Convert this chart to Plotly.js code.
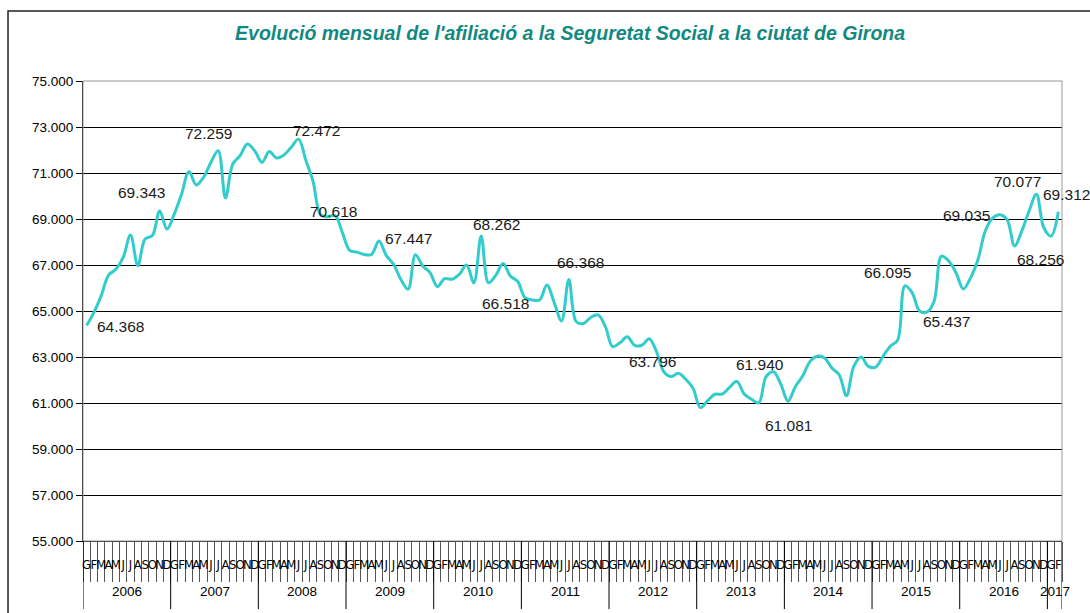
<!DOCTYPE html>
<html>
<head>
<meta charset="utf-8">
<script src="https://cdn.plot.ly/plotly-3.0.1.min.js"></script>
<style>
  html, body { margin: 0; padding: 0; background: #fff; }
  #chart { width: 1090px; height: 613px; }
</style>
</head>
<body>
<div id="chart"></div>
<script>
const years = ["2006", "2007", "2008", "2009", "2010", "2011", "2012", "2013", "2014", "2015", "2016", "2017"];
const monthLetters = ["G", "F", "M", "A", "M", "J", "J", "A", "S", "O", "N", "D"];

// afiliats per mes, gener 2006 - febrer 2017
const affiliates = [
  64368, 64940, 65670, 66560, 66810, 67330, 68300, 66970, 68130, 68280, 69343, 68560,
  69220, 70090, 71060, 70480, 70810, 71460, 71970, 69910, 71390, 71750, 72259, 71970,
  71460, 71930, 71650, 71780, 72120, 72472, 71560, 70618, 69200, 69100, 69150, 68410,
  67640, 67560, 67460, 67460, 68040, 67420, 67030, 66380, 65950, 67447, 66960, 66670,
  66060, 66410, 66380, 66590, 67000, 66230, 68262, 66230, 66550, 67070, 66518, 66280,
  65580, 65480, 65480, 66130, 65360, 64570, 66368, 64540, 64460, 64720, 64830, 64320,
  63450, 63620, 63880, 63510, 63510, 63796, 63230, 62360, 62150, 62290, 62030, 61640,
  60800, 61100, 61380, 61390, 61680, 61940, 61390, 61160, 61010, 62150, 62360, 61830,
  61081, 61710, 62170, 62800, 63030, 62960, 62520, 62230, 61310, 62590, 63000, 62590,
  62560, 63030, 63470, 63730, 66095, 65790, 65000, 64950, 65437, 67390, 67170, 66660,
  65960, 66450, 67240, 68480, 69035, 69180, 68960, 67830, 68480, 69350, 70077, 68630,
  68256, 69312
];

// months that carry a value label
const labelMonths = [0, 10, 22, 29, 31, 45, 54, 58, 66, 77, 89, 96, 112, 116, 124, 130, 132, 133];
// label offsets in px (dx, dy), same order as labelMonths
const labelOffsets = [
  [34, -1], [-18, 19], [-39, 11], [18, 9], [20, -30], [-7, 16], [15, 11], [-5, -27], [12, 17],
  [3, -23], [23, 17], [0, -24], [-17, 13], [12, -21], [-26, 3], [-19, 13], [-11, -23], [8, 17]
];

const FONT = "Liberation Sans, Arial, sans-serif";
const NARROW = "Liberation Sans Narrow, DejaVu Sans Condensed, Liberation Sans, sans-serif";

function fmtThousands(num) {
  return String(num).replace(/\B(?=(\d{3})+(?!\d))/g, ".");
}

function buildCategories() {
  return affiliates.map((_, i) => years[Math.floor(i / 12)] + "-" + (i % 12 + 1));
}

function buildYearDecor(categories) {
  const shapes = [];
  const annotations = [];
  const n = categories.length;

  years.forEach((year, k) => {
    const start = k * 12;
    if (start >= n) return;
    const end = Math.min(start + 12, n) - 1;
    shapes.push({
      type: "line", xref: "x", yref: "paper",
      x0: start - 0.5, x1: start - 0.5, y0: 0, y1: -0.148,
      line: { color: "#000", width: 1 }
    });
    annotations.push({
      xref: "x", yref: "paper",
      x: (start + end) / 2, y: -0.11,
      text: year, showarrow: false,
      xanchor: "center", yanchor: "middle",
      font: { family: FONT, size: 13.5, color: "#000" }
    });
  });

  shapes.push({
    type: "line", xref: "x", yref: "paper",
    x0: n - 0.5, x1: n - 0.5, y0: 0, y1: -0.148,
    line: { color: "#000", width: 1 }
  });

  return { shapes, annotations };
}

function buildValueLabels(categories) {
  return labelMonths.map((idx, k) => ({
    xref: "x", yref: "y",
    x: categories[idx], y: affiliates[idx],
    text: fmtThousands(affiliates[idx]),
    showarrow: false,
    xanchor: "center", yanchor: "middle",
    xshift: labelOffsets[k][0], yshift: labelOffsets[k][1],
    font: { family: FONT, size: 15.5, color: "#1a1a1a" }
  }));
}

function renderChart() {
  const categories = buildCategories();
  const yearDecor = buildYearDecor(categories);

  const shapes = [
    // chart frame
    {
      type: "rect", xref: "paper", yref: "paper",
      x0: -0.0766, x1: 1.1, y0: -0.3, y1: 1.152,
      line: { color: "#222", width: 1.5 }
    },
    // plot area border
    {
      type: "rect", xref: "paper", yref: "paper",
      x0: 0, x1: 1, y0: 0, y1: 1,
      line: { color: "#999", width: 1 }
    },
    ...yearDecor.shapes
  ];

  Plotly.newPlot(
    "chart",
    [
      {
        type: "scatter",
        mode: "lines",
        x: categories,
        y: affiliates,
        line: { color: "#33CCCC", width: 3, shape: "spline", smoothing: 1 },
        hoverinfo: "skip"
      }
    ],
    {
      width: 1090,
      height: 613,
      paper_bgcolor: "#fff",
      plot_bgcolor: "#fff",
      separators: ",.",
      showlegend: false,
      margin: { l: 83, r: 28, t: 81, b: 72 },
      title: {
        text: "<b><i>Evolució mensual de l'afiliació a la Seguretat Social a la ciutat de Girona</i></b>",
        x: 0.523, xanchor: "center",
        y: 0.946, yanchor: "middle", yref: "container",
        font: { family: FONT, size: 19.5, color: "#12897f" }
      },
      xaxis: {
        type: "category",
        range: [-0.5, categories.length - 0.5],
        tickmode: "array",
        tickvals: categories,
        ticktext: categories.map((_, i) => monthLetters[i % 12]),
        tickson: "boundaries",
        ticks: "outside",
        ticklen: 40,
        tickcolor: "#555",
        tickwidth: 1,
        tickangle: 0,
        ticklabelstandoff: 11,
        tickfont: { family: NARROW, size: 13, color: "#000" },
        showline: true,
        linecolor: "#000",
        linewidth: 1,
        showgrid: false,
        zeroline: false,
        fixedrange: true
      },
      yaxis: {
        range: [55000, 75000],
        tick0: 55000,
        dtick: 2000,
        tickformat: ",",
        ticks: "outside",
        ticklen: 6,
        tickcolor: "#000",
        tickfont: { family: FONT, size: 13.5, color: "#000" },
        showline: true,
        linecolor: "#000",
        linewidth: 1,
        showgrid: true,
        gridcolor: "#000",
        gridwidth: 1,
        zeroline: false,
        fixedrange: true
      },
      shapes,
      annotations: [...yearDecor.annotations, ...buildValueLabels(categories)]
    },
    {
      staticPlot: true,
      displayModeBar: false
    }
  );
}

document.addEventListener("DOMContentLoaded", renderChart);
</script>
</body>
</html>
